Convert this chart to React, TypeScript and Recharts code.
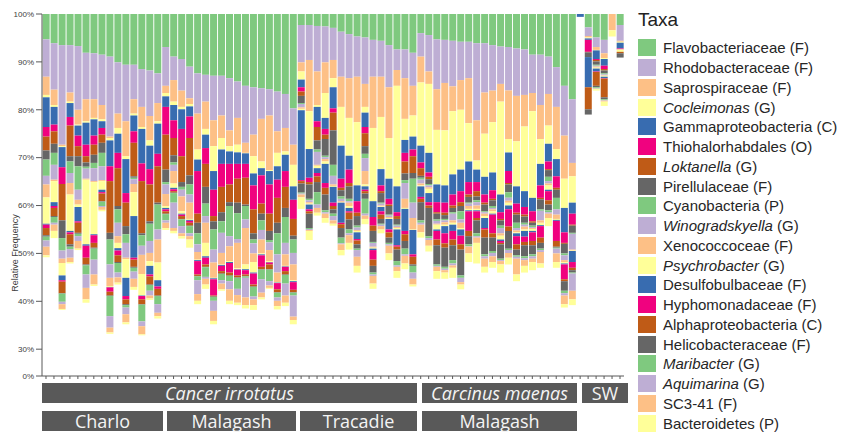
import { BarChart, Bar, XAxis, YAxis } from "recharts";

// Taxa in stacking order (top of each bar first)
const taxa = [
  "Flavobacteriaceae", "Rhodobacteraceae", "Saprospiraceae", "Cocleimonas",
  "Gammaproteobacteria", "Thiohalorhabdales", "Loktanella", "Pirellulaceae",
  "Cyanobacteria", "Winogradskyella", "Xenococcoceae", "Psychrobacter",
  "Desulfobulbaceae", "Hyphomonadaceae", "Alphaproteobacteria", "Helicobacteraceae",
  "Maribacter", "Aquimarina", "SC3-41", "Bacteroidetes",
];
const ranks = ["F", "F", "F", "G", "C", "O", "G", "F", "P", "G", "F", "G", "F", "F", "C", "F", "G", "G", "F", "P"];

const accent = ["#7fc97f", "#beaed4", "#fdc086", "#ffff99", "#386cb0", "#f0027f", "#bf5b17", "#666666"];

// Relative frequency (%) of each taxon per sample, columns follow `taxa`
const charloSamples = [
  [5.3, 7.8, 3.8, 0.5, 6.2, 2.0, 2.9, 1.9, 3.4, 1.8, 2.7, 5.5, 0.2, 0.7, 1.5, 0.3, 0.8, 1.3, 1.8, 0.4],
  [6.1, 9.7, 3.2, 0.4, 3.7, 1.4, 2.6, 1.9, 2.5, 3.1, 0.3, 4.4, 0.8, 0.4, 1.7, 0.2, 1.2, 0.4, 1.3, 1.5],
  [6.5, 20.8, 0.3, 0.2, 4.2, 3.5, 7.6, 3.7, 2.6, 1.7, 0.9, 2.6, 1.0, 0.3, 2.4, 0.1, 1.7, 0.5, 1.0, 0.2],
  [6.5, 9.9, 1.9, 0.3, 2.9, 1.8, 6.4, 1.1, 2.4, 2.1, 2.4, 7.6, 0.3, 0.4, 2.1, 0.5, 0.5, 1.8, 0.9, 0.3],
  [6.7, 13.3, 3.1, 0.2, 2.1, 2.2, 2.1, 2.1, 4.9, 2.1, 1.0, 0.5, 3.0, 0.3, 2.1, 0.2, 0.5, 1.0, 1.6, 0.3],
  [8.1, 9.7, 4.6, 0.3, 4.6, 2.4, 1.3, 0.9, 0.4, 2.1, 0.2, 13.5, 0.3, 2.5, 1.4, 0.2, 1.9, 2.8, 2.4, 0.7],
  [8.2, 9.6, 3.9, 0.3, 3.4, 1.9, 2.1, 1.7, 1.1, 2.7, 0.2, 10.9, 0.2, 1.6, 1.0, 0.2, 2.3, 3.1, 2.1, 0.3],
  [8.5, 10.5, 3.0, 0.4, 1.4, 1.4, 1.7, 2.1, 2.8, 2.9, 0.2, 1.8, 0.5, 0.3, 1.6, 0.1, 0.9, 0.2, 0.6, 0.3],
  [8.9, 16.7, 0.3, 0.5, 5.4, 3.1, 10.8, 1.4, 5.2, 2.8, 1.7, 0.2, 0.1, 0.9, 0.8, 0.1, 4.2, 2.4, 1.0, 0.3],
  [10.1, 10.7, 3.0, 1.2, 4.0, 3.2, 7.9, 0.7, 2.8, 2.8, 1.4, 1.1, 0.5, 1.0, 1.4, 0.2, 2.0, 1.0, 1.1, 0.4],
  [10.6, 11.8, 7.3, 0.6, 7.1, 2.0, 4.9, 1.7, 1.8, 3.1, 0.3, 3.9, 3.8, 0.7, 1.0, 0.2, 0.5, 1.4, 1.7, 0.4],
  [10.6, 7.2, 3.0, 0.4, 3.3, 2.4, 7.0, 0.3, 0.3, 1.0, 1.7, 5.0, 8.7, 0.4, 1.5, 0.2, 0.8, 1.5, 1.7, 0.6],
  [11.5, 7.9, 4.2, 0.4, 7.2, 3.7, 10.9, 0.4, 2.2, 1.9, 4.0, 4.5, 0.1, 0.7, 1.0, 0.1, 3.5, 1.0, 1.7, 0.2],
  [11.8, 9.5, 5.1, 1.1, 4.9, 3.2, 7.7, 0.5, 3.6, 2.5, 1.7, 1.0, 1.8, 0.4, 1.7, 0.1, 1.2, 1.0, 0.6, 0.3],
  [12.4, 6.2, 3.8, 0.5, 6.3, 2.6, 7.6, 0.4, 5.2, 2.1, 4.8, 3.7, 1.3, 0.5, 1.4, 0.1, 1.7, 1.8, 0.7, 0.5],
];

const malagashCancerSamples = [
  [6.9, 8.1, 1.5, 0.7, 2.2, 5.8, 7.3, 2.6, 0.5, 2.0, 2.5, 0.4, 0.3, 0.4, 0.5, 0.1, 1.3, 0.5, 1.1, 0.4],
  [8.9, 4.9, 4.5, 0.7, 3.2, 3.7, 3.6, 1.5, 0.5, 1.3, 2.6, 0.9, 0.3, 0.4, 0.3, 0.1, 2.0, 5.3, 0.6, 0.5],
  [9.4, 6.6, 3.4, 0.5, 4.1, 5.7, 5.4, 1.0, 0.6, 1.4, 3.1, 0.5, 0.2, 0.3, 0.6, 0.1, 1.4, 1.5, 0.6, 0.5],
  [11.0, 6.6, 1.2, 0.5, 2.1, 4.5, 7.8, 1.9, 2.1, 1.7, 3.4, 0.2, 0.2, 0.4, 0.6, 0.1, 1.5, 0.6, 0.7, 1.7],
  [12.4, 8.4, 7.5, 2.1, 2.4, 8.9, 1.9, 2.2, 2.3, 1.6, 1.6, 0.1, 0.2, 2.8, 0.3, 0.1, 0.8, 2.9, 1.4, 0.7],
  [12.7, 5.6, 5.7, 1.2, 2.8, 3.3, 4.8, 3.5, 2.6, 1.4, 4.2, 2.8, 0.3, 1.4, 0.5, 0.1, 2.0, 0.4, 1.2, 0.9],
  [12.9, 9.3, 5.4, 5.2, 3.9, 5.5, 1.1, 1.7, 4.2, 2.7, 3.2, 0.1, 0.2, 3.4, 0.2, 0.1, 0.8, 2.1, 2.1, 0.7],
  [12.9, 8.3, 4.7, 2.4, 3.0, 4.8, 5.3, 1.9, 2.4, 4.2, 2.4, 0.1, 0.2, 1.1, 0.5, 0.1, 1.3, 0.7, 1.2, 0.3],
  [13.4, 10.9, 3.3, 1.1, 2.6, 4.3, 3.7, 0.8, 6.3, 2.1, 3.1, 0.2, 0.2, 2.0, 0.6, 0.1, 1.1, 1.7, 2.4, 0.7],
  [14.1, 7.6, 5.6, 1.6, 2.4, 3.1, 5.0, 2.2, 5.4, 0.8, 5.3, 0.2, 0.1, 1.2, 0.4, 0.1, 2.3, 1.3, 1.6, 0.5],
  [15.0, 11.9, 2.1, 0.1, 2.2, 2.9, 5.6, 0.3, 2.8, 1.8, 7.6, 1.0, 0.2, 0.9, 0.3, 0.1, 0.3, 4.1, 1.6, 0.7],
  [15.3, 9.9, 4.5, 3.6, 2.5, 5.0, 5.0, 1.3, 0.8, 2.1, 1.8, 2.2, 0.2, 2.3, 0.4, 0.1, 2.0, 0.6, 1.2, 1.0],
  [15.5, 6.4, 8.9, 1.4, 1.5, 5.9, 2.1, 1.4, 2.0, 2.0, 2.9, 0.2, 0.2, 2.4, 0.5, 0.1, 2.0, 2.8, 1.0, 0.4],
  [15.7, 5.5, 11.4, 0.2, 2.8, 6.1, 3.6, 1.9, 0.5, 1.6, 2.3, 0.2, 0.1, 0.4, 1.0, 0.1, 2.4, 0.9, 0.5, 0.2],
  [16.2, 8.3, 4.5, 2.8, 2.8, 3.8, 5.2, 2.2, 4.4, 3.8, 2.0, 0.1, 0.1, 1.3, 0.6, 0.1, 1.0, 0.7, 1.1, 0.7],
  [16.7, 7.1, 4.9, 0.7, 3.4, 3.3, 4.4, 1.9, 5.4, 2.4, 2.4, 0.1, 0.1, 0.9, 0.7, 0.1, 1.8, 2.5, 1.5, 0.7],
  [19.7, 7.6, 4.2, 4.5, 2.8, 4.0, 3.5, 0.8, 2.8, 2.4, 3.3, 0.2, 0.2, 1.6, 0.5, 0.1, 0.6, 4.4, 0.7, 0.9],
];

const tracadieSamples = [
  [2.3, 7.8, 1.9, 1.7, 1.6, 0.9, 0.9, 1.5, 0.2, 0.7, 0.3, 0.3, 14.6, 0.2, 0.5, 1.9, 0.2, 0.2, 0.6, 2.4],
  [2.3, 7.3, 10.7, 7.9, 6.0, 0.9, 0.5, 3.0, 0.3, 0.4, 0.3, 0.2, 1.0, 0.4, 0.5, 3.0, 0.2, 0.2, 0.2, 1.9],
  [2.5, 9.5, 7.0, 0.4, 3.0, 1.2, 2.8, 1.9, 0.5, 2.7, 0.2, 0.5, 1.0, 0.7, 1.2, 2.1, 2.6, 0.7, 1.0, 0.6],
  [2.6, 7.5, 6.4, 5.2, 2.3, 1.2, 0.9, 3.5, 0.3, 0.4, 0.5, 0.5, 4.0, 1.0, 1.4, 3.3, 0.4, 0.3, 0.9, 1.0],
  [2.9, 6.7, 3.8, 1.9, 4.4, 0.9, 3.7, 7.2, 2.3, 1.8, 0.3, 0.2, 3.3, 0.7, 0.7, 0.9, 0.5, 0.9, 0.7, 0.4],
  [3.7, 9.4, 6.3, 8.1, 6.9, 1.9, 0.5, 1.3, 0.5, 0.5, 0.2, 0.1, 4.2, 0.3, 0.8, 2.0, 1.2, 0.2, 1.2, 1.1],
  [4.2, 9.2, 8.3, 7.9, 2.9, 2.8, 0.7, 2.6, 0.5, 0.3, 0.7, 0.4, 0.7, 0.3, 1.4, 2.1, 0.8, 0.4, 1.6, 1.4],
  [4.7, 8.4, 9.5, 13.2, 3.3, 2.4, 0.7, 2.0, 0.4, 0.5, 0.2, 0.3, 1.4, 0.3, 0.8, 0.9, 0.3, 1.4, 1.9, 1.4],
  [4.9, 9.7, 4.8, 1.2, 3.0, 1.3, 2.7, 1.6, 0.9, 2.7, 2.8, 0.4, 0.7, 0.3, 0.5, 1.1, 3.1, 0.4, 0.7, 1.1],
  [5.4, 7.7, 10.7, 15.3, 3.3, 1.8, 1.1, 2.3, 0.2, 0.8, 0.2, 0.2, 0.3, 2.0, 1.3, 1.4, 0.4, 0.3, 1.6, 1.1],
  [5.6, 7.5, 8.4, 10.9, 3.4, 1.2, 0.4, 2.0, 0.2, 0.4, 0.2, 0.1, 0.9, 0.7, 0.9, 1.0, 0.2, 0.3, 0.7, 0.8],
  [6.5, 8.8, 10.6, 8.5, 4.2, 1.2, 0.3, 1.8, 0.2, 0.3, 0.2, 0.2, 2.2, 0.6, 1.1, 1.1, 0.3, 0.3, 1.6, 1.4],
  [7.4, 4.3, 3.3, 21.0, 5.4, 0.8, 0.6, 1.2, 0.2, 0.3, 0.2, 0.3, 3.3, 0.3, 0.6, 2.4, 0.9, 0.3, 0.9, 1.4],
  [7.4, 6.0, 8.5, 4.4, 2.7, 1.8, 2.5, 1.4, 0.6, 3.3, 1.9, 0.2, 4.6, 0.7, 1.4, 1.6, 1.2, 0.3, 1.6, 1.2],
  [8.1, 6.9, 6.2, 4.4, 2.7, 1.4, 3.5, 1.2, 5.0, 3.2, 2.4, 0.1, 5.1, 0.5, 1.6, 0.3, 1.4, 1.3, 1.2, 0.4],
];

const malagashCarcinusSamples = [
  [4.0, 4.9, 5.4, 13.2, 3.5, 1.2, 1.6, 0.4, 0.4, 0.8, 0.4, 0.2, 2.2, 0.4, 0.7, 3.8, 0.5, 0.4, 1.6, 1.1],
  [4.4, 7.6, 2.6, 14.4, 4.1, 0.9, 0.5, 1.0, 0.3, 0.4, 0.3, 0.9, 1.9, 0.7, 0.5, 5.9, 0.4, 0.4, 1.2, 1.2],
  [5.3, 10.4, 8.5, 11.4, 3.7, 2.1, 0.3, 1.2, 0.3, 0.6, 0.2, 1.0, 0.3, 1.8, 1.2, 4.0, 0.3, 0.2, 0.9, 1.6],
  [5.4, 9.0, 9.9, 11.5, 3.6, 2.1, 0.5, 0.8, 0.3, 0.4, 0.5, 0.3, 1.5, 2.1, 0.9, 4.0, 0.4, 0.3, 0.5, 1.3],
  [5.6, 9.5, 5.2, 13.2, 4.2, 2.3, 0.5, 0.9, 0.3, 1.4, 0.5, 0.4, 1.3, 1.8, 1.2, 3.1, 0.7, 0.4, 0.5, 2.1],
  [5.8, 8.0, 6.2, 12.5, 4.5, 2.3, 0.8, 1.1, 1.7, 0.7, 1.1, 0.3, 1.3, 1.8, 1.1, 5.4, 0.5, 0.9, 0.5, 1.0],
  [5.8, 7.6, 9.4, 8.0, 4.3, 2.6, 0.5, 1.2, 0.2, 0.5, 0.6, 0.3, 0.2, 4.1, 1.1, 1.7, 0.4, 0.1, 1.4, 1.8],
  [6.1, 16.1, 8.4, 1.9, 2.6, 1.9, 1.1, 0.8, 0.4, 0.7, 0.7, 0.3, 0.2, 1.4, 0.5, 2.7, 0.6, 0.3, 1.1, 4.3],
  [6.1, 10.3, 8.6, 9.0, 3.7, 1.7, 0.4, 1.4, 0.2, 0.3, 0.5, 0.4, 2.1, 0.3, 1.7, 3.5, 0.4, 0.5, 1.7, 1.2],
  [6.5, 9.5, 6.6, 10.5, 3.7, 1.8, 0.3, 1.2, 0.4, 0.3, 0.4, 0.5, 0.2, 3.9, 0.9, 2.8, 0.4, 0.7, 1.2, 1.2],
  [6.8, 7.8, 3.7, 19.4, 3.7, 1.4, 0.3, 1.1, 0.5, 1.1, 0.5, 0.8, 0.3, 0.4, 0.3, 3.0, 0.3, 0.2, 0.7, 1.7],
  [6.9, 9.1, 10.1, 2.8, 3.9, 2.5, 0.3, 1.6, 1.2, 0.6, 0.4, 0.6, 0.8, 3.6, 0.9, 3.7, 0.3, 0.6, 1.0, 1.4],
  [7.2, 9.9, 9.5, 9.4, 3.6, 1.9, 0.4, 1.7, 1.1, 0.5, 0.4, 0.2, 0.6, 1.7, 1.1, 1.2, 0.3, 0.4, 3.3, 1.4],
  [7.4, 9.5, 6.6, 13.5, 3.3, 1.6, 0.4, 1.3, 0.4, 0.4, 0.6, 0.3, 1.2, 1.1, 0.7, 2.3, 0.4, 0.4, 1.2, 1.4],
  [8.5, 8.0, 3.8, 18.1, 2.8, 2.1, 0.3, 0.6, 0.3, 0.2, 0.2, 0.4, 0.3, 1.8, 0.9, 1.9, 0.4, 0.5, 0.7, 1.7],
  [8.5, 10.5, 7.1, 5.2, 4.5, 2.6, 0.3, 2.1, 0.3, 2.0, 0.5, 0.5, 0.2, 2.4, 1.1, 1.2, 0.3, 0.4, 2.4, 0.9],
  [8.9, 7.8, 6.6, 3.8, 3.7, 1.6, 0.2, 1.4, 0.9, 0.5, 0.4, 0.9, 0.3, 1.9, 0.9, 1.2, 0.4, 0.3, 0.9, 1.7],
  [11.1, 8.3, 8.8, 2.1, 3.6, 2.4, 0.4, 1.7, 2.4, 1.1, 0.9, 0.2, 0.2, 4.2, 1.2, 0.2, 0.2, 1.0, 1.8, 1.2],
  [15.0, 10.4, 9.0, 6.1, 5.1, 2.2, 0.2, 2.0, 0.4, 1.0, 0.4, 0.3, 0.2, 3.1, 0.4, 2.0, 0.5, 0.5, 1.8, 0.7],
  [17.8, 13.3, 2.8, 5.5, 2.3, 2.3, 0.2, 1.5, 0.2, 3.3, 0.2, 0.1, 2.3, 1.2, 0.5, 0.5, 0.2, 3.6, 1.8, 1.2],
];

const seawaterSamples = [
  [0, 0, 0, 0, 0.6, 0, 0, 0, 0, 0, 0, 0, 0, 0, 0, 0, 0, 0, 0, 0],
  [2.8, 1.8, 0.3, 0.2, 0.3, 2.5, 0.1, 1.0, 0, 0, 0, 0, 6.3, 0, 4.6, 1.1, 0, 0, 0, 0],
  [4.9, 2.0, 0.6, 0.1, 1.8, 0.2, 0.3, 0.7, 0.2, 0.2, 0.2, 0.2, 0.6, 0.1, 2.9, 0.3, 0.2, 0.1, 0.1, 0.3],
  [5.4, 2.8, 1.0, 0.2, 1.4, 0.7, 0.3, 0.6, 0.2, 0.2, 0.1, 0.2, 0.3, 0.1, 3.9, 0.4, 0.2, 0.1, 0.2, 0.9],
  [0, 0, 3.4, 1.3, 0, 0, 0, 0, 0, 0, 0, 0, 0, 0, 0, 0, 0, 0, 0, 0],
  [2.3, 3.3, 0.2, 0.2, 1.2, 0.2, 0, 0, 0, 0, 0, 0.5, 0, 0, 0.3, 0.9, 0, 0, 0, 0],
];

const sampleGroups: [string, number[][]][] = [
  ["CH", charloSamples],
  ["MC", malagashCancerSamples],
  ["TR", tracadieSamples],
  ["MM", malagashCarcinusSamples],
  ["SW", seawaterSamples],
];

// y ticks, measured from the top of the axis (100%)
const yTicks = [0, 10, 20, 30, 40, 50, 60, 70, 75.6];

const chartData = sampleGroups.flatMap(([prefix, rows]) =>
  rows.map((vals, i) => {
    const row: Record<string, string | number> = { sample: `${prefix}${i + 1}` };
    taxa.forEach((t, j) => {
      row[t] = vals[j];
    });
    return row;
  })
);

const hostBoxes = [
  { label: "Cancer irrotatus", left: 42, right: 417, italic: true },
  { label: "Carcinus maenas", left: 422, right: 577, italic: true },
  { label: "SW", left: 582, right: 628, italic: false },
];
const siteBoxes = [
  { label: "Charlo", left: 42, right: 163 },
  { label: "Malagash", left: 167, right: 296 },
  { label: "Tracadie", left: 300, right: 417 },
  { label: "Malagash", left: 422, right: 577 },
];

const boxFont = "'Open Sans', 'Noto Sans', sans-serif";
const sansFont = "'Liberation Sans', Arial, sans-serif";

function GroupBox({ label, left, right, top, height, italic }: any) {
  return (
    <div
      style={{
        position: "absolute",
        left,
        top,
        width: right - left,
        height,
        background: "#595959",
        color: "#f4f4f4",
        fontFamily: boxFont,
        fontSize: 18,
        fontStyle: italic ? "italic" : "normal",
        display: "flex",
        alignItems: "center",
        justifyContent: "center",
        whiteSpace: "nowrap",
      }}
    >
      <span style={{ lineHeight: "20px" }}>{label}</span>
    </div>
  );
}

export default function App() {
  return (
    <div style={{ position: "absolute", left: 0, top: 0, width: 843, height: 432, background: "#fff" }}>
      <BarChart
        width={640}
        height={382}
        data={chartData}
        margin={{ top: 14, right: 16, bottom: 0, left: 0 }}
        barCategoryGap="8%"
      >
        <XAxis
          dataKey="sample"
          interval={0}
          height={6}
          tickSize={3}
          tickFormatter={() => ""}
          axisLine={{ stroke: "#595959" }}
          tickLine={{ stroke: "#595959" }}
          padding={{ left: 0, right: 0 }}
        />
        <YAxis
          type="number"
          reversed
          domain={[0, 75.6]}
          ticks={yTicks}
          interval={0}
          width={42}
          tickSize={6}
          tickMargin={2}
          allowDataOverflow
          tickFormatter={(v: number) => (v > 71 ? "0%" : `${Math.round(100 - v)}%`)}
          tick={{ fontSize: 8, fill: "#404040", fontFamily: sansFont }}
          axisLine={{ stroke: "#595959" }}
          tickLine={{ stroke: "#595959" }}
        />
        {taxa.map((t, i) => (
          <Bar key={t} dataKey={t} stackId="taxa" fill={accent[i % accent.length]} isAnimationActive={false} />
        ))}
      </BarChart>

      <div
        style={{
          position: "absolute",
          left: 15,
          top: 253,
          transform: "translate(-50%, -50%) rotate(-90deg)",
          fontFamily: sansFont,
          fontSize: 9,
          color: "#404040",
          whiteSpace: "nowrap",
        }}
      >
        Relative Frequency
      </div>

      {hostBoxes.map((b) => (
        <GroupBox key={b.label} {...b} top={383} height={20} />
      ))}
      {siteBoxes.map((b, i) => (
        <GroupBox key={`${b.label}-${i}`} {...b} top={411} height={20} />
      ))}

      <div style={{ position: "absolute", left: 638, top: 10, fontFamily: sansFont, fontSize: 19, lineHeight: 1, color: "#222" }}>
        Taxa
      </div>
      <div style={{ position: "absolute", left: 638, top: 38 }}>
        {taxa.map((t, i) => (
          <div key={t} style={{ display: "flex", alignItems: "center", height: 19.75 }}>
            <div style={{ width: 18, height: 17, background: accent[i % accent.length], flex: "none" }} />
            <div
              style={{
                marginLeft: 7,
                fontFamily: sansFont,
                fontSize: 15,
                lineHeight: 1,
                color: "#262626",
                whiteSpace: "nowrap",
              }}
            >
              <span style={{ fontStyle: ranks[i] === "G" ? "italic" : "normal" }}>{t}</span>
              {ranks[i] === "G" ? ` (${ranks[i]})` : `  (${ranks[i]})`}
            </div>
          </div>
        ))}
      </div>
    </div>
  );
}
